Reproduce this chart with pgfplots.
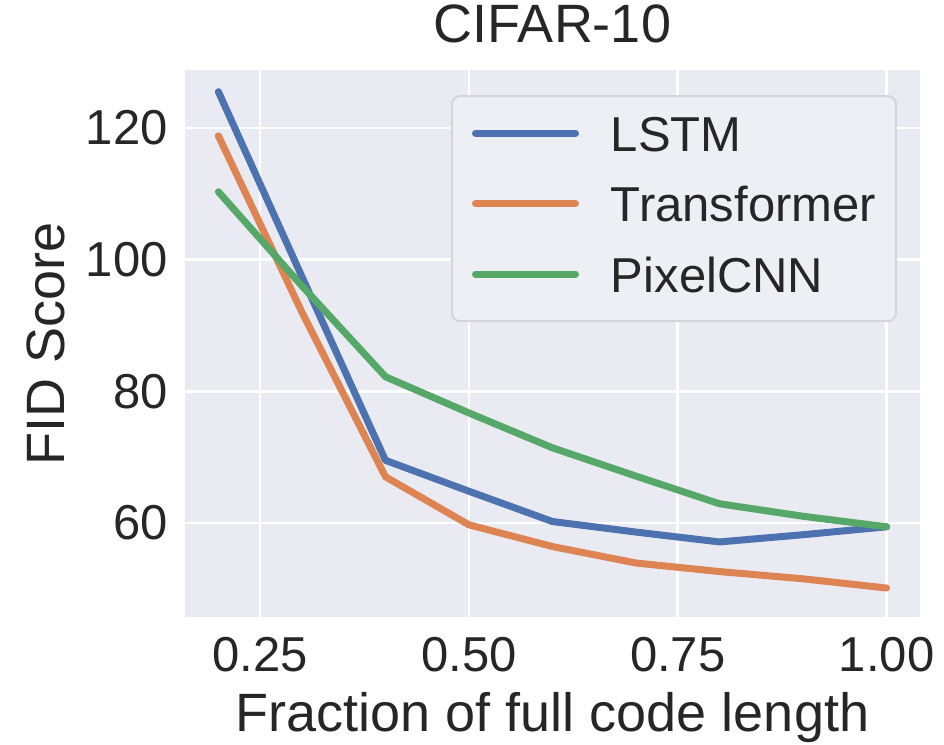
\documentclass[border=0pt]{standalone}
\usepackage{fontspec}
\setmainfont{Liberation Sans}
\usepackage{pgfplots}
\pgfplotsset{compat=1.18}
\definecolor{bg}{HTML}{EAEAF2}
\definecolor{txt}{HTML}{262626}
\definecolor{cblue}{HTML}{4C72B0}
\definecolor{corange}{HTML}{DD8452}
\definecolor{cgreen}{HTML}{55A868}
\definecolor{legfill}{HTML}{EEEEF5}
\definecolor{legedge}{HTML}{D4D4DA}
\newcommand{\fs}{\fontsize{24.5}{29}\selectfont}
\newcommand{\ft}{\fontsize{27}{32}\selectfont}
\begin{document}
\begin{tikzpicture}
\begin{axis}[
  name=ax,
  scale only axis, width=367.5pt, height=273.5pt,
  xmin=0.16, xmax=1.04, ymin=45.7, ymax=128.8,
  axis background/.style={fill=bg},
  axis line style={draw=none},
  major tick length=0pt,
  xtick={0.25,0.5,0.75,1.0}, ytick={60,80,100,120},
  xmajorgrids, ymajorgrids,
  major grid style={white, line width=1.3pt},
  /pgf/number format/assume math mode=true,
  x tick label style={/pgf/number format/fixed, /pgf/number format/fixed zerofill, /pgf/number format/precision=2,
    font=\fs, text=txt, inner sep=0pt, anchor=north, yshift=-10pt},
  y tick label style={font=\fs, text=txt, inner sep=0pt, anchor=east, xshift=-8.5pt},
  xlabel={Fraction of full code length},
  ylabel={FID Score},
  title={CIFAR-10},
  xlabel style={at={(axis description cs:0.5,0)}, anchor=north, inner sep=0pt, yshift=-37.5pt, font=\ft, text=txt},
  ylabel style={at={([xshift=-60pt]axis description cs:0,0.5)}, anchor=base, inner sep=0pt, font=\ft, text=txt},
  title style={at={([yshift=7.5pt]axis description cs:0.5,1)}, anchor=base, inner sep=0pt, font=\ft, text=txt},
  legend cell align=left,
  legend image code/.code={\draw[#1, line width=3.5pt] (0pt,2.5pt) -- (50pt,2.5pt);},
  legend style={
    at={(axis description cs:0.9687,0.954)}, anchor=north east,
    draw=legedge, fill=legfill, rounded corners=4pt, line width=1pt,
    inner xsep=10pt, inner ysep=9.5pt,
    row sep=12.25pt, column sep=16pt,
    nodes={inner sep=0pt, text height=18pt, text depth=5pt, font=\fs, text=txt},
  },
  every axis plot/.append style={line width=3.5pt, line join=round, line cap=round},
]
\addplot[cblue] coordinates {
  (0.2,125.5) (0.3,97.4) (0.4,69.5) (0.5,64.8) (0.6,60.2) (0.7,58.6) (0.8,57.1) (0.9,58.2) (1.0,59.4)
};
\addlegendentry{LSTM}
\addplot[corange] coordinates {
  (0.2,118.8) (0.3,92.0) (0.4,67.0) (0.5,59.7) (0.6,56.4) (0.7,53.9) (0.8,52.6) (0.9,51.5) (1.0,50.1)
};
\addlegendentry{Transformer}
\addplot[cgreen] coordinates {
  (0.2,110.3) (0.3,96.0) (0.4,82.2) (0.5,76.7) (0.6,71.4) (0.7,67.1) (0.8,62.9) (0.9,61.0) (1.0,59.4)
};
\addlegendentry{PixelCNN}
\end{axis}
\pgfresetboundingbox
\path[use as bounding box] ([shift={(-92.5pt,-64pt)}]ax.south west) rectangle ([shift={(12pt,35pt)}]ax.north east);
\end{tikzpicture}
\end{document}
